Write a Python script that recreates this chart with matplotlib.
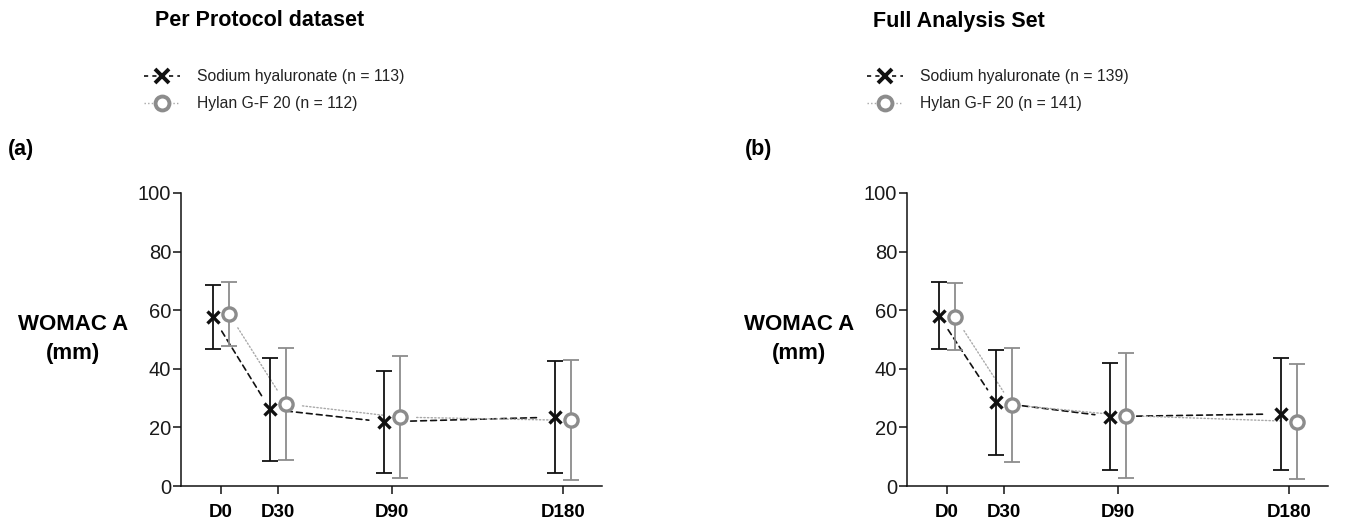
import matplotlib
matplotlib.use("Agg")
import matplotlib.pyplot as plt
from matplotlib.lines import Line2D

plt.rcParams['font.family'] = ['Liberation Sans', 'DejaVu Sans']

days = [0, 30, 90, 180]
day_labels = ['D0', 'D30', 'D90', 'D180']
yticks = [0, 20, 40, 60, 80, 100]

pp_sh_mean = [57.7, 26.2, 21.9, 23.5]
pp_sh_sd = [10.9, 17.5, 17.3, 19.2]
pp_hg_mean = [58.8, 28.0, 23.5, 22.4]
pp_hg_sd = [10.9, 19.2, 20.7, 20.5]

fas_sh_mean = [58.1, 28.5, 23.7, 24.6]
fas_sh_sd = [11.4, 17.9, 18.3, 19.2]
fas_hg_mean = [57.8, 27.7, 24.0, 22.0]
fas_hg_sd = [11.5, 19.4, 21.4, 19.7]

titles = ['Per Protocol dataset', 'Full Analysis Set']
panel_tags = ['(a)', '(b)']
sh_labels = ['Sodium hyaluronate (n = 113)', 'Sodium hyaluronate (n = 139)']
hg_labels = ['Hylan G-F 20 (n = 112)', 'Hylan G-F 20 (n = 141)']
ylabel = 'WOMAC A\n(mm)'

W, H = 1362, 525
fig = plt.figure(figsize=(W / 100, H / 100), dpi=100)

BLACK = '#111111'
GREY = '#8c8c8c'
GREY_LINE = '#a8a8a8'
offset = 4.2

panels = [
    (pp_sh_mean, pp_sh_sd, pp_hg_mean, pp_hg_sd),
    (fas_sh_mean, fas_sh_sd, fas_hg_mean, fas_hg_sd),
]
ax_left_px = [181, 907]

def connect(ax, xs, ys, color, ls, lw):
    for i in range(len(xs) - 1):
        ax.annotate('', xy=(xs[i + 1], ys[i + 1]), xytext=(xs[i], ys[i]),
                    arrowprops=dict(arrowstyle='-', color=color, lw=lw,
                                    linestyle=ls, shrinkA=12, shrinkB=11),
                    annotation_clip=False, zorder=1)

for k, (shm, shs, hgm, hgs) in enumerate(panels):
    lp = ax_left_px[k]
    ax = fig.add_axes([lp / W, (H - 486) / H, 421 / W, 293 / H])
    xs_sh = [d - offset for d in days]
    xs_hg = [d + offset for d in days]
    connect(ax, xs_sh, shm, BLACK, (0, (3.5, 2.5)), 1.2)
    connect(ax, xs_hg, hgm, GREY_LINE, (0, (1, 1.6)), 1.0)
    ax.errorbar(xs_sh, shm, yerr=shs, fmt='none', ecolor=BLACK,
                elinewidth=1.3, capsize=5.5, capthick=1.3, zorder=2)
    ax.errorbar(xs_hg, hgm, yerr=hgs, fmt='none', ecolor=GREY,
                elinewidth=1.3, capsize=5.5, capthick=1.3, zorder=2)
    ax.plot(xs_sh, shm, linestyle='none', marker='x', ms=9, mew=2.4,
            color=BLACK, zorder=3)
    ax.plot(xs_hg, hgm, linestyle='none', marker='o', ms=9.5, mew=2.4,
            mfc='white', mec=GREY, zorder=3)

    ax.set_xlim(-21, 200.5)
    ax.set_ylim(0, 100)
    ax.set_yticks(yticks)
    ax.set_xticks(days)
    ax.set_xticklabels(day_labels, fontweight='bold', fontsize=13.5)
    ax.tick_params(axis='y', labelsize=14.5, length=6, width=1.1, pad=1,
                   color=BLACK, labelcolor='#1a1a1a')
    ax.tick_params(axis='x', length=5.5, width=1.1, pad=7.5, color=BLACK)
    for s in ['top', 'right']:
        ax.spines[s].set_visible(False)
    for s in ['left', 'bottom']:
        ax.spines[s].set_linewidth(1.1)
        ax.spines[s].set_color(BLACK)

    fig.text((lp - 108) / W, 1 - 339 / H, ylabel, ha='center', va='center',
             fontsize=16, fontweight='bold', linespacing=1.5)

    title_x = [260, 959][k]
    fig.text(title_x / W, 1 - 21 / H, titles[k], ha='center', va='center',
             fontsize=15.5, fontweight='bold')
    tag_x = [8, 745][k]
    fig.text(tag_x / W, 1 - 150 / H, panel_tags[k], ha='left', va='center',
             fontsize=15.5, fontweight='bold')

    handles = [
        Line2D([], [], color=BLACK, linestyle=(0, (2.5, 2.5)), lw=1.2,
               marker='x', ms=10, mew=2.8),
        Line2D([], [], color=GREY_LINE, linestyle=(0, (1, 1.6)), lw=1.0,
               marker='o', ms=10, mew=2.8, mfc='white', mec=GREY),
    ]
    leg_x = [144, 867][k]
    leg = fig.legend(handles, [sh_labels[k], hg_labels[k]], loc='upper left',
                     bbox_to_anchor=(leg_x / W, 1 - 69 / H),
                     bbox_transform=fig.transFigure, frameon=False,
                     fontsize=11.3, handlelength=2.3, handletextpad=1.1,
                     labelspacing=0.78, borderpad=0, borderaxespad=0)
    for t in leg.get_texts():
        t.set_color('#222222')

fig.savefig('out.png', dpi=100)
